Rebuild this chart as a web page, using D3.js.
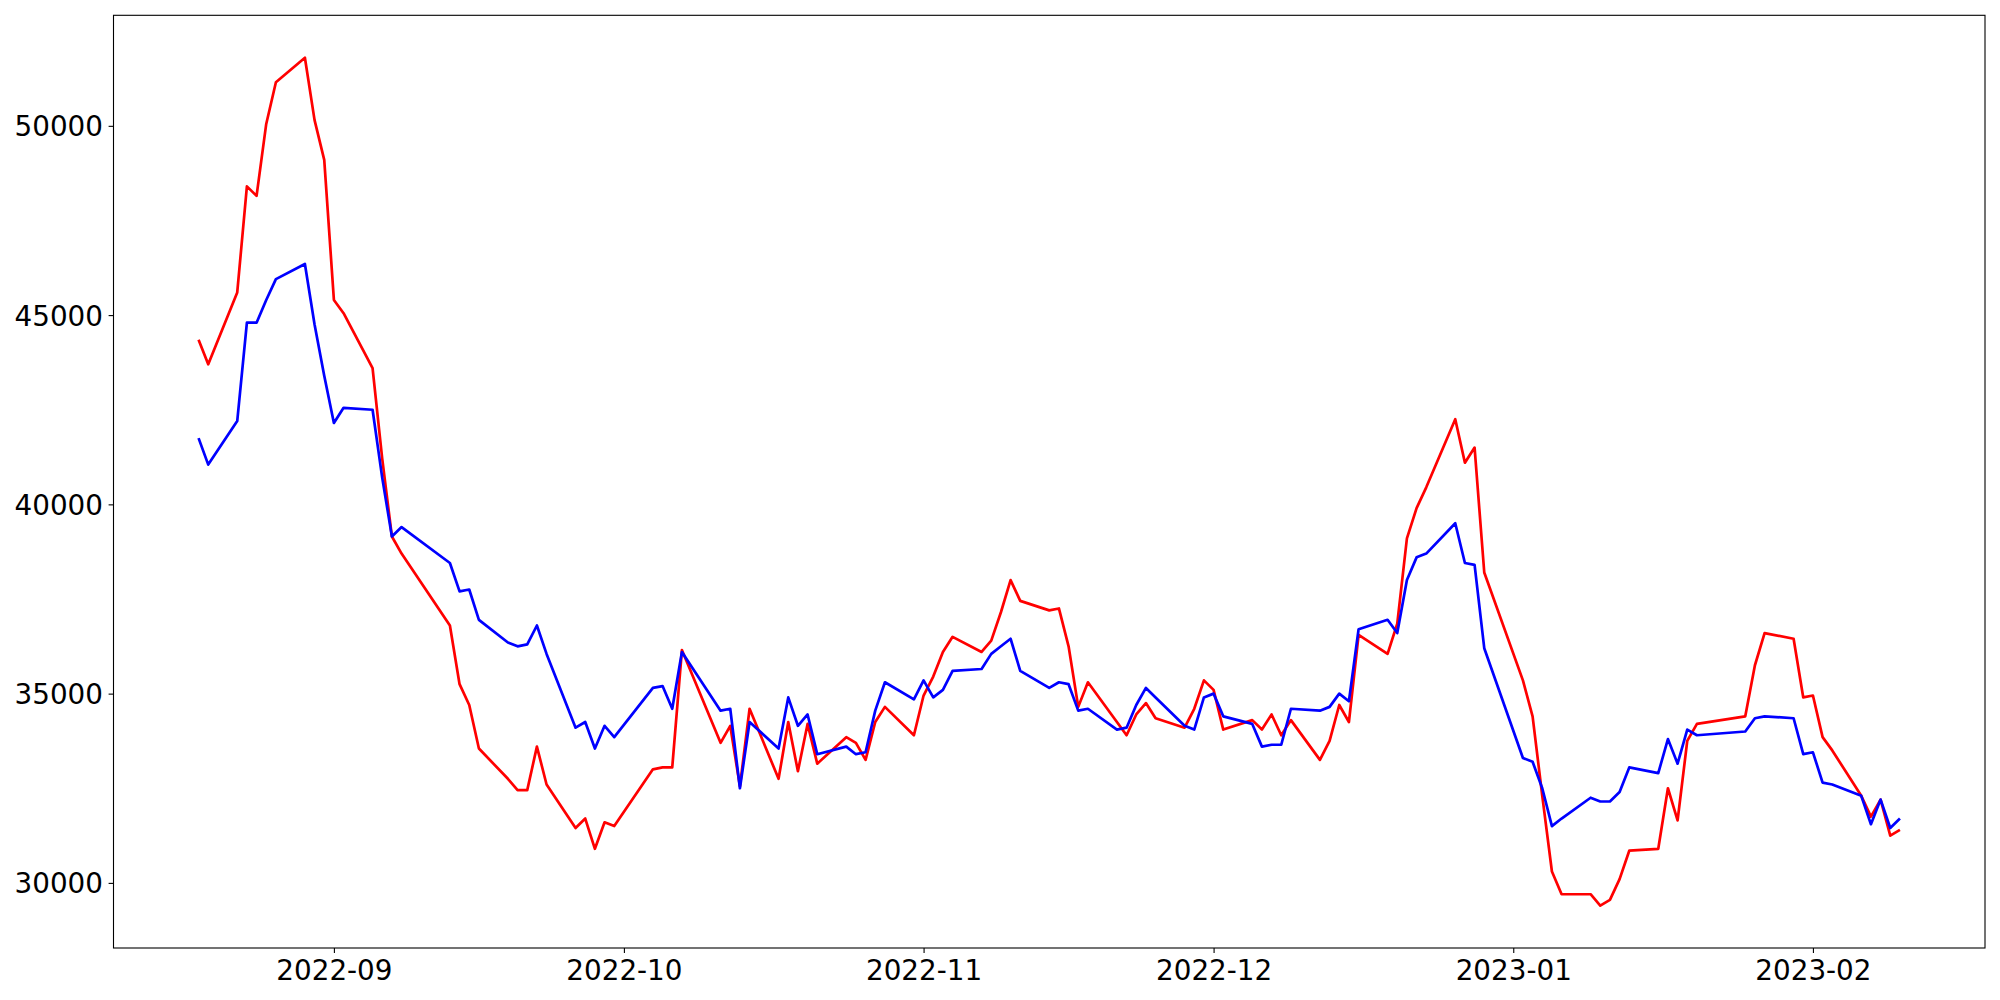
<!DOCTYPE html>
<html>
<head>
<meta charset="utf-8">
<script src="https://cdn.jsdelivr.net/npm/d3@7"></script>
<style>
  html, body { margin: 0; padding: 0; background: #fff; }
  svg { display: block; }
  text { font-family: "DejaVu Sans", sans-serif; }
</style>
</head>
<body>
<svg id="chart" width="2000" height="1000"></svg>
<script>
// ---- data (Korean trading days) ----
const dates = [
  "2022-08-18","2022-08-19","2022-08-22","2022-08-23","2022-08-24","2022-08-25","2022-08-26",
  "2022-08-29","2022-08-30","2022-08-31","2022-09-01","2022-09-02",
  "2022-09-05","2022-09-06","2022-09-07","2022-09-08",
  "2022-09-13","2022-09-14","2022-09-15","2022-09-16",
  "2022-09-19","2022-09-20","2022-09-21","2022-09-22","2022-09-23",
  "2022-09-26","2022-09-27","2022-09-28","2022-09-29","2022-09-30",
  "2022-10-04","2022-10-05","2022-10-06","2022-10-07",
  "2022-10-11","2022-10-12","2022-10-13","2022-10-14",
  "2022-10-17","2022-10-18","2022-10-19","2022-10-20","2022-10-21",
  "2022-10-24","2022-10-25","2022-10-26","2022-10-27","2022-10-28",
  "2022-10-31","2022-11-01","2022-11-02","2022-11-03","2022-11-04",
  "2022-11-07","2022-11-08","2022-11-09","2022-11-10","2022-11-11",
  "2022-11-14","2022-11-15","2022-11-16","2022-11-17","2022-11-18",
  "2022-11-21","2022-11-22","2022-11-23","2022-11-24","2022-11-25",
  "2022-11-28","2022-11-29","2022-11-30","2022-12-01","2022-12-02",
  "2022-12-05","2022-12-06","2022-12-07","2022-12-08","2022-12-09",
  "2022-12-12","2022-12-13","2022-12-14","2022-12-15","2022-12-16",
  "2022-12-19","2022-12-20","2022-12-21","2022-12-22","2022-12-23",
  "2022-12-26","2022-12-27","2022-12-28","2022-12-29",
  "2023-01-02","2023-01-03","2023-01-04","2023-01-05","2023-01-06",
  "2023-01-09","2023-01-10","2023-01-11","2023-01-12","2023-01-13",
  "2023-01-16","2023-01-17","2023-01-18","2023-01-19","2023-01-20",
  "2023-01-25","2023-01-26","2023-01-27",
  "2023-01-30","2023-01-31","2023-02-01","2023-02-02","2023-02-03",
  "2023-02-06","2023-02-07","2023-02-08","2023-02-09","2023-02-10"
];

const redSeries = [
  44350,43700,45600,48400,48150,50050,51150,
  51800,50150,49100,45400,45050,
  43600,41200,39150,38700,
  36800,35250,34700,33550,
  32750,32450,32450,33600,32600,
  31450,31700,30900,31600,31500,
  33000,33050,33050,36150,
  33700,34150,32550,34600,
  32750,34250,32950,34200,33150,
  33850,33700,33250,34250,34650,
  33900,34950,35450,36100,36500,
  36100,36400,37150,38000,37450,
  37200,37250,36250,34650,35300,
  34250,33900,34450,34750,34350,
  34100,34600,35350,35100,34050,
  34300,34050,34450,33900,34300,
  33250,33750,34700,34250,36550,
  36050,36850,39100,39900,40450,
  42250,41100,41500,38200,
  35350,34400,32300,30300,29700,
  29700,29400,29550,30100,30850,
  30900,32500,31650,33750,34200,
  34400,35750,36600,
  36450,34900,34950,33850,33500,
  32300,31750,32200,31250,31400
];

const blueSeries = [
  41750,41050,42200,44800,44800,45400,45950,
  46350,44750,43400,42150,42550,
  42500,40700,39150,39400,
  38450,37700,37750,36950,
  36350,36250,36300,36800,36050,
  34100,34250,33550,34150,33850,
  35150,35200,34600,36100,
  34550,34600,32500,34250,
  33550,34900,34150,34450,33400,
  33600,33400,33450,34550,35300,
  34850,35350,34900,35100,35600,
  35650,36050,36250,36450,35600,
  35150,35300,35250,34550,34600,
  34050,34100,34700,35150,34900,
  34150,34050,34900,35000,34400,
  34200,33600,33650,33650,34600,
  34550,34650,35000,34800,36700,
  36950,36600,38000,38600,38700,
  39500,38450,38400,36200,
  33300,33200,32500,31500,31700,
  32250,32150,32150,32400,33050,
  32900,33800,33150,34050,33900,
  34000,34350,34400,
  34350,33400,33450,32650,32600,
  32300,31550,32200,31450,31700
];

const xTickDates = ["2022-09-01","2022-10-01","2022-11-01","2022-12-01","2023-01-01","2023-02-01"];
const xTickLabels = ["2022-09","2022-10","2022-11","2022-12","2023-01","2023-02"];
const yTicks = [30000, 35000, 40000, 45000, 50000];

// ---- layout ----
const W = 2000, H = 1000;
const box = { left: 113.5, right: 1985, top: 15.3, bottom: 948 };
const FONT = 27.8;

const parse = d3.utcParse("%Y-%m-%d");
const xs = dates.map(parse);

// matplotlib-like 5% margins
const xExt = d3.extent(xs);
const xPad = (xExt[1] - xExt[0]) * 0.05;
const allVals = redSeries.concat(blueSeries);
const yExt = d3.extent(allVals);
const yPad = (yExt[1] - yExt[0]) * 0.05;

const x = d3.scaleUtc()
  .domain([new Date(+xExt[0] - xPad), new Date(+xExt[1] + xPad)])
  .range([box.left, box.right]);
const y = d3.scaleLinear()
  .domain([yExt[0] - yPad, yExt[1] + yPad])
  .range([box.bottom, box.top]);

const svg = d3.select("#chart");

// lines
const line = d3.line()
  .x((d, i) => x(xs[i]))
  .y(d => y(d));

svg.append("path")
  .datum(redSeries)
  .attr("fill", "none")
  .attr("stroke", "#ff0000")
  .attr("stroke-width", 2.7)
  .attr("stroke-linejoin", "round")
  .attr("d", line);

svg.append("path")
  .datum(blueSeries)
  .attr("fill", "none")
  .attr("stroke", "#0000ff")
  .attr("stroke-width", 2.7)
  .attr("stroke-linejoin", "round")
  .attr("d", line);

// frame
svg.append("rect")
  .attr("x", box.left).attr("y", box.top)
  .attr("width", box.right - box.left).attr("height", box.bottom - box.top)
  .attr("fill", "none").attr("stroke", "#000").attr("stroke-width", 1.1);

// x axis
const xAxis = d3.axisBottom(x)
  .tickValues(xTickDates.map(parse))
  .tickFormat((d, i) => xTickLabels[i])
  .tickSize(4.9)
  .tickPadding(6);
const gx = svg.append("g")
  .attr("transform", `translate(0,${box.bottom})`)
  .call(xAxis);
gx.select(".domain").remove();
gx.selectAll(".tick line").attr("stroke", "#000").attr("stroke-width", 1.1);
gx.selectAll(".tick text")
  .attr("fill", "#000")
  .attr("font-size", FONT)
  .attr("font-family", "DejaVu Sans")
  .attr("dy", null)
  .attr("y", 31.5);

// y axis
const yAxis = d3.axisLeft(y)
  .tickValues(yTicks)
  .tickFormat(d3.format("d"))
  .tickSize(4.9)
  .tickPadding(6);
const gy = svg.append("g")
  .attr("transform", `translate(${box.left},0)`)
  .call(yAxis);
gy.select(".domain").remove();
gy.selectAll(".tick line").attr("stroke", "#000").attr("stroke-width", 1.1);
gy.selectAll(".tick text")
  .attr("fill", "#000")
  .attr("font-size", FONT)
  .attr("font-family", "DejaVu Sans")
  .attr("dy", "0.36em")
  .attr("x", -10.5);
</script>
</body>
</html>
